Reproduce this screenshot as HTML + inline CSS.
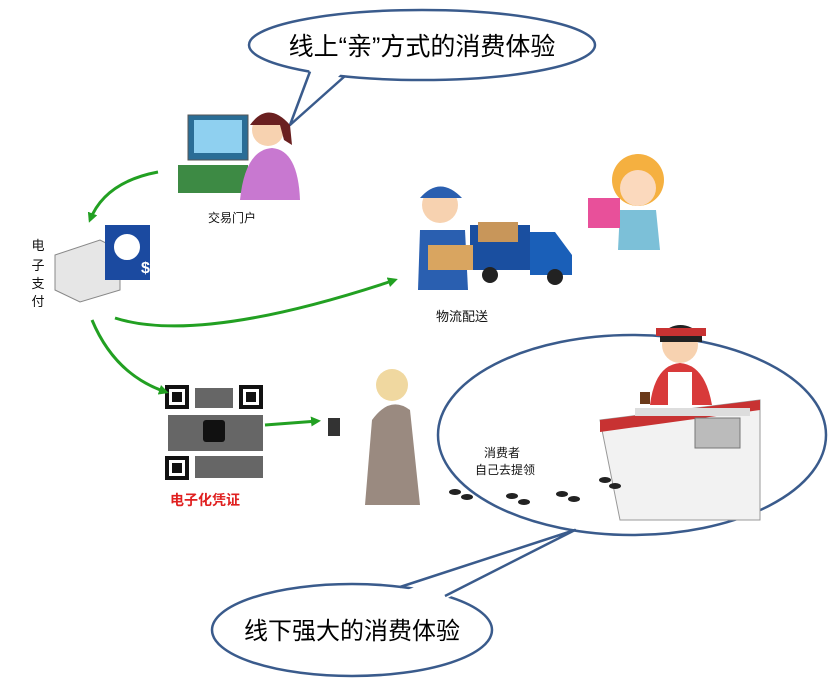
<!DOCTYPE html>
<html><head><meta charset="utf-8"><style>
body{margin:0;background:#fff}
svg{display:block}
text{font-family:"Liberation Sans","Noto Sans CJK SC",sans-serif}
</style></head><body>
<svg width="829" height="680" viewBox="0 0 829 680" xmlns="http://www.w3.org/2000/svg">
<defs>
<marker id="ah" markerWidth="10" markerHeight="10" refX="7" refY="5" orient="auto" markerUnits="userSpaceOnUse"><path d="M0,0 L10,5 L0,10 Z" fill="#22a022"/></marker>
</defs>
<rect width="829" height="680" fill="#fff"/>

<ellipse cx="632" cy="435" rx="194" ry="100" fill="none" stroke="#3a5b8c" stroke-width="2.5"/>

<path d="M600,420 L760,400 L760,520 L620,520 Z" fill="#f2f2f2" stroke="#999"/>
<path d="M600,420 L760,400 L760,410 L600,432 Z" fill="#c83232"/>
<rect x="635" y="408" width="115" height="8" fill="#ddd"/>
<rect x="695" y="418" width="45" height="30" fill="#bbb" stroke="#777"/>
<circle cx="680" cy="345" r="18" fill="#f7d2b0"/>
<path d="M660,335 Q680,315 702,335 L702,342 L660,342Z" fill="#222"/>
<rect x="656" y="328" width="50" height="8" fill="#c83232"/>
<path d="M650,405 Q655,365 680,363 Q705,365 712,405 Z" fill="#d83a3a"/>
<rect x="668" y="372" width="24" height="34" fill="#fff"/>
<rect x="640" y="392" width="10" height="12" fill="#6b3a1a"/>
<g fill="#222">
<ellipse cx="455" cy="492" rx="6" ry="3"/><ellipse cx="467" cy="497" rx="6" ry="3"/>
<ellipse cx="512" cy="496" rx="6" ry="3"/><ellipse cx="524" cy="502" rx="6" ry="3"/>
<ellipse cx="562" cy="494" rx="6" ry="3"/><ellipse cx="574" cy="499" rx="6" ry="3"/>
<ellipse cx="605" cy="480" rx="6" ry="3"/><ellipse cx="615" cy="486" rx="6" ry="3"/>
</g>
<text x="502" y="457" font-size="12" text-anchor="middle" fill="#111">消费者</text>
<text x="505" y="474" font-size="12" text-anchor="middle" fill="#111">自己去提领</text>

<!-- top bubble -->
<ellipse cx="422" cy="45" rx="173" ry="35" fill="#fff" stroke="#3a5b8c" stroke-width="2.5"/>
<polygon points="311,66 344,71 290,125" fill="#fff"/>
<path d="M310,71.5 L290,125 L345,76" fill="none" stroke="#3a5b8c" stroke-width="2.5" stroke-linejoin="round"/>
<text x="422" y="55" font-size="25" text-anchor="middle" fill="#000">线上“亲”方式的消费体验</text>

<!-- bottom bubble -->
<ellipse cx="352" cy="630" rx="140" ry="46" fill="#fff" stroke="#3a5b8c" stroke-width="2.5"/>
<polygon points="401,592 444,600 575,530" fill="#fff"/>
<path d="M400,587 L575,530 L445,596" fill="none" stroke="#3a5b8c" stroke-width="2.5" stroke-linejoin="round"/>
<text x="352" y="639" font-size="24" text-anchor="middle" fill="#000">线下强大的消费体验</text>

<rect x="188" y="115" width="60" height="45" fill="#2a6d96" stroke="#555"/>
<rect x="194" y="120" width="48" height="33" fill="#8fd0f0"/>
<rect x="178" y="165" width="70" height="28" fill="#3d8a44"/>
<circle cx="268" cy="130" r="16" fill="#f7d2b0"/>
<path d="M250,125 Q268,100 290,125 L292,145 L284,140 L280,125 Z" fill="#6a2020"/>
<path d="M240,200 Q245,150 272,148 Q298,150 300,200 Z" fill="#c878d0"/>
<text x="232" y="222" font-size="12" text-anchor="middle" fill="#111">交易门户</text>

<path d="M55,255 L100,240 L120,250 L120,290 L80,302 L55,290 Z" fill="#e6e6e6" stroke="#888"/>
<rect x="105" y="225" width="45" height="55" fill="#1b4aa0"/>
<circle cx="127" cy="247" r="14" fill="#fff" stroke="#1b4aa0" stroke-width="2"/>
<text x="141" y="273" font-size="16" fill="#fff" font-weight="bold">$</text>
<text x="38" y="250" font-size="13" text-anchor="middle" fill="#111">电</text>
<text x="38" y="270" font-size="13" text-anchor="middle" fill="#111">子</text>
<text x="38" y="288" font-size="13" text-anchor="middle" fill="#111">支</text>
<text x="38" y="306" font-size="13" text-anchor="middle" fill="#111">付</text>

<rect x="470" y="225" width="60" height="45" fill="#1a4fa0"/>
<path d="M530,232 L555,232 L572,255 L572,275 L530,275 Z" fill="#1a5fb8"/>
<circle cx="490" cy="275" r="8" fill="#222"/><circle cx="555" cy="277" r="8" fill="#222"/>
<rect x="478" y="222" width="40" height="20" fill="#c8965a"/>
<circle cx="440" cy="205" r="18" fill="#f7d2b0"/>
<path d="M420,198 Q440,175 462,198 Z" fill="#2a5fb0"/>
<path d="M418,290 L420,230 L465,230 L468,290 Z" fill="#2a5fb0"/>
<rect x="428" y="245" width="45" height="25" fill="#d9a560"/>
<text x="462" y="321" font-size="13" text-anchor="middle" fill="#111">物流配送</text>

<circle cx="638" cy="180" r="26" fill="#f5b040"/>
<circle cx="638" cy="188" r="18" fill="#fbd9bd"/>
<path d="M620,210 L656,210 L660,250 L618,250 Z" fill="#7cc0d8"/>
<rect x="588" y="198" width="32" height="30" fill="#e8509a"/>

<rect x="165" y="385" width="98" height="95" fill="#fff"/>
<g fill="#111">
<rect x="165" y="385" width="24" height="24"/><rect x="239" y="385" width="24" height="24"/><rect x="165" y="456" width="24" height="24"/>
</g>
<g fill="#fff"><rect x="169" y="389" width="16" height="16"/><rect x="243" y="389" width="16" height="16"/><rect x="169" y="460" width="16" height="16"/></g>
<g fill="#111"><rect x="172" y="392" width="10" height="10"/><rect x="246" y="392" width="10" height="10"/><rect x="172" y="463" width="10" height="10"/></g>
<g fill="#333" opacity="0.75">
<rect x="195" y="388" width="38" height="20"/><rect x="168" y="415" width="95" height="36"/><rect x="195" y="456" width="68" height="22"/>
</g>
<rect x="203" y="420" width="22" height="22" rx="3" fill="#111"/>
<text x="205" y="505" font-size="14" text-anchor="middle" fill="#e02020" font-weight="bold">电子化凭证</text>

<circle cx="392" cy="385" r="16" fill="#f0d8a0"/>
<path d="M372,420 Q390,395 410,410 L420,505 L365,505 Z" fill="#9a8a80"/>
<rect x="328" y="418" width="12" height="18" fill="#333"/>

<g fill="none" stroke="#22a022" stroke-width="3" marker-end="url(#ah)">
<path d="M158,172 Q105,182 90,220"/>
<path d="M115,318 Q200,345 395,280"/>
<path d="M92,320 Q115,375 166,392"/>
<path d="M265,425 L318,421"/>
</g>
</svg>
</body></html>
